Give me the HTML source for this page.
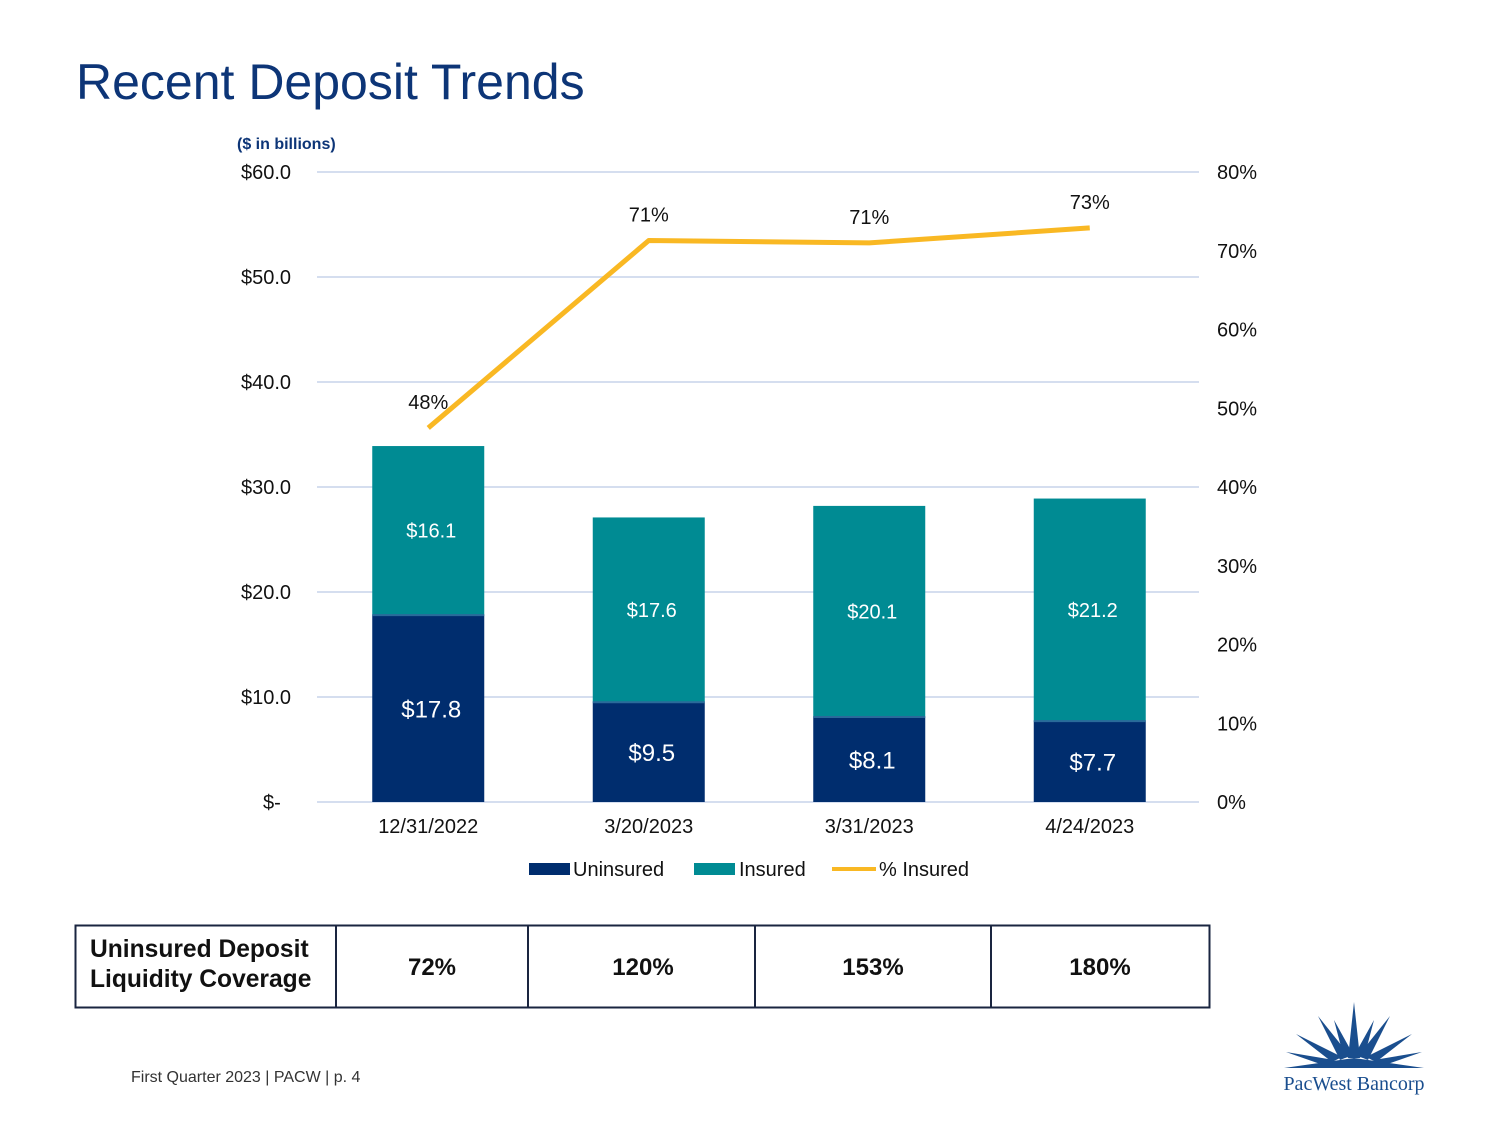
<!DOCTYPE html>
<html><head><meta charset="utf-8"><style>
body{margin:0;background:#fff;font-family:"Liberation Sans",Arial,sans-serif}
svg text{font-family:"Liberation Sans",Arial,sans-serif}
</style></head><body>
<svg id="c" width="1500" height="1125" xmlns="http://www.w3.org/2000/svg">
<text x="76" y="99" font-size="50" fill="#0d3577">Recent Deposit Trends</text>
<text x="237" y="149" font-size="16" font-weight="bold" fill="#0d3577">($ in billions)</text>
<g id="grid"></g>
<g id="bars"></g>
<g id="line"></g>
<g>
<g><rect x="529" y="863" width="41" height="12" fill="#002d6e"/><text x="573" y="876" font-size="20" fill="#111">Uninsured</text></g>
<g><rect x="694" y="863" width="41" height="12" fill="#008b93"/><text x="739" y="876" font-size="20" fill="#111">Insured</text></g>
<g><line x1="832" y1="869" x2="876" y2="869" stroke="#f9b823" stroke-width="4"/><text x="879" y="876" font-size="20" fill="#111">% Insured</text></g>
</g>
<g font-weight="bold" font-size="24" fill="#111">
<rect x="75.5" y="925.5" width="1134" height="82" fill="none" stroke="#1a2540" stroke-width="2"/>
<line x1="336" y1="925" x2="336" y2="1008" stroke="#1a2540" stroke-width="2"/>
<line x1="528" y1="925" x2="528" y2="1008" stroke="#1a2540" stroke-width="2"/>
<line x1="755" y1="925" x2="755" y2="1008" stroke="#1a2540" stroke-width="2"/>
<line x1="991" y1="925" x2="991" y2="1008" stroke="#1a2540" stroke-width="2"/>
<text x="90" y="957" font-size="24.6">Uninsured Deposit</text>
<text x="90" y="987" font-size="24.6">Liquidity Coverage</text>
<g id="cov" text-anchor="middle"></g>
</g>
<text x="131" y="1082" font-size="16" fill="#333">First Quarter 2023 | PACW | p. 4</text>
<g fill="#1a4e8e">
<polygon points="1284,1068 1424,1068 1354,1058"/>
<polygon points="1348,1058 1354,1002 1360,1058"/>
<polygon points="1340,1060 1318,1016 1350,1056"/>
<polygon points="1358,1056 1390,1016 1368,1060"/>
<polygon points="1332,1062 1296,1034 1342,1057"/>
<polygon points="1366,1057 1412,1034 1376,1062"/>
<polygon points="1326,1066 1286,1052 1334,1060"/>
<polygon points="1374,1060 1422,1052 1382,1066"/>
<polygon points="1344,1058 1334,1020 1354,1056"/>
<polygon points="1354,1056 1374,1020 1364,1058"/>
<text x="1354" y="1090" text-anchor="middle" font-size="20" fill="#1a4e8e" style="font-family:'Liberation Serif',serif">PacWest Bancorp</text>
</g>
</svg>
<script>
const categories=["12/31/2022","3/20/2023","3/31/2023","4/24/2023"];
const uninsured=[17.8,9.5,8.1,7.7];
const insured=[16.1,17.6,20.1,21.2];
const pctInsured=[47.5,71.3,71.0,72.9];
const pctLabels=["48%","71%","71%","73%"];
const leftTicks=[0,10,20,30,40,50,60];
const leftTickLabels=["$-","$10.0","$20.0","$30.0","$40.0","$50.0","$60.0"];
const rightTicks=[0,10,20,30,40,50,60,70,80];
const coverage=["72%","120%","153%","180%"];
const NS="http://www.w3.org/2000/svg";
const X0=317,X1=1199,Y0=802,Y1=172;
const yL=v=>Y0-(v/60)*(Y0-Y1);
const yR=v=>Y0-(v/80)*(Y0-Y1);
const band=(X1-X0)/categories.length;
const xC=i=>X0+band*(i+0.5)+1;
const bw=112;
function mk(tag,attrs,parent,txt){const e=document.createElementNS(NS,tag);for(const k in attrs)e.setAttribute(k,attrs[k]);if(txt!==undefined)e.textContent=txt;parent.appendChild(e);return e;}
const grid=document.getElementById('grid');
leftTicks.forEach((t,i)=>{
  mk('line',{x1:X0,x2:X1,y1:yL(t),y2:yL(t),stroke:'#d5deef','stroke-width':2},grid);
  const tx=mk('text',{x:i===0?263:241,y:yL(t)+7,'font-size':20,fill:'#111'},grid,leftTickLabels[i]);
  
  
});
rightTicks.forEach(t=>{
  const tx=mk('text',{x:1217,y:yR(t)+7,'font-size':20,fill:'#111'},grid,t+'%');
  
  
});
const bars=document.getElementById('bars');
categories.forEach((c,i)=>{
  const x=xC(i)-bw/2;
  const r1=mk('rect',{x:x,y:yL(uninsured[i]),width:bw,height:Y0-yL(uninsured[i]),fill:'#002d6e'},bars);
  
  
  const top=uninsured[i]+insured[i];
  const r2=mk('rect',{x:x,y:yL(top),width:bw,height:yL(uninsured[i])-yL(top),fill:'#008b93'},bars);
  
  
  mk('line',{x1:x,x2:x+bw,y1:yL(uninsured[i]),y2:yL(uninsured[i]),stroke:'#2a6a9a','stroke-width':2},bars);
  const l1=mk('text',{x:xC(i)+3,y:(yL(uninsured[i])+Y0)/2+9,'font-size':24,fill:'#fff','text-anchor':'middle'},bars,'$'+uninsured[i].toFixed(1));
  
  
  const l2=mk('text',{x:xC(i)+3,y:(yL(uninsured[i])+yL(top))/2+7,'font-size':20,fill:'#fff','text-anchor':'middle'},bars,'$'+insured[i].toFixed(1));
  
  
  const cl=mk('text',{x:xC(i),y:833,'font-size':20,fill:'#111','text-anchor':'middle'},bars,c);
  
  
});
const line=document.getElementById('line');
const pts=pctInsured.map((v,i)=>xC(i)+','+yR(v)).join(' ');
const pl=mk('polyline',{points:pts,fill:'none',stroke:'#f9b823','stroke-width':5,'stroke-linejoin':'round'},line);


pctInsured.forEach((v,i)=>{
  const t=mk('text',{x:xC(i),y:yR(v)-19,'font-size':20,fill:'#111','text-anchor':'middle'},line,pctLabels[i]);
  
  
});
const cov=document.getElementById('cov');
const cx=[432,643,873,1100];
coverage.forEach((c,i)=>{
  const t=mk('text',{x:cx[i],y:975},cov,c);
  
  
});
</script>
</body></html>
